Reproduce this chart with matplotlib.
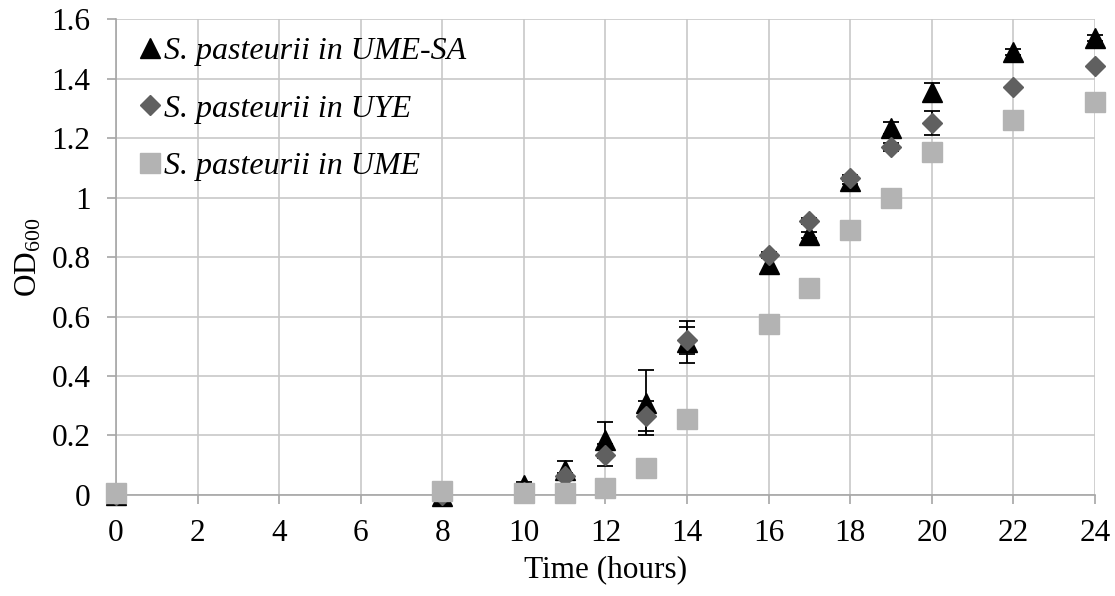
import matplotlib
matplotlib.use("Agg")
import matplotlib.pyplot as plt
from matplotlib.lines import Line2D

# Growth curves of S. pasteurii in three media (OD600 vs time)
hours = [0, 8, 10, 11, 12, 13, 14, 16, 17, 18, 19, 20, 22, 24]

od_ume_sa = [0.0, -0.005, 0.035, 0.085, 0.185, 0.31, 0.515, 0.775, 0.875, 1.055, 1.235, 1.355, 1.488, 1.536]
err_ume_sa = [0.0, 0.0, 0.01, 0.03, 0.062, 0.11, 0.07, 0.025, 0.01, 0.01, 0.02, 0.03, 0.01, 0.01]

od_uye = [0.0, 0.0, 0.01, 0.065, 0.134, 0.265, 0.52, 0.807, 0.921, 1.066, 1.17, 1.25, 1.371, 1.442]
err_uye = [0.0, 0.0, 0.0, 0.01, 0.037, 0.05, 0.045, 0.01, 0.01, 0.01, 0.012, 0.04, 0.005, 0.005]

od_ume = [0.005, 0.015, 0.005, 0.005, 0.025, 0.09, 0.255, 0.575, 0.696, 0.89, 0.998, 1.154, 1.26, 1.321]
err_ume = [0.0] * len(hours)

labels = ["S. pasteurii in UME-SA", "S. pasteurii in UYE", "S. pasteurii in UME"]

plt.rcParams["font.family"] = ["Liberation Serif", "DejaVu Serif"]
plt.rcParams["mathtext.fontset"] = "custom"
plt.rcParams["mathtext.rm"] = "Liberation Serif"
plt.rcParams["mathtext.it"] = "Liberation Serif:italic"

fig = plt.figure(figsize=(11.15, 5.96), dpi=100)
ax = fig.add_axes([0.104, 0.1695, 0.878, 0.7985])

grid_c = "#c8c8c8"
axis_c = "#a6a6a6"

series = [
    (od_ume_sa, err_ume_sa, "^", 15, "#000000", labels[0]),
    (od_uye, err_uye, "D", 10.5, "#606060", labels[1]),
    (od_ume, err_ume, "s", 14, "#b3b3b3", labels[2]),
]

for i, (vals, errs, mk, ms, col, lab) in enumerate(series):
    eb = ax.errorbar(hours, vals, yerr=errs, fmt=mk, ms=ms, color=col, mfc=col, mec=col,
                     ecolor="black", elinewidth=1.3, capsize=6, capthick=1.3,
                     label=lab, zorder=3 + i, clip_on=False)
    eb.lines[0].set_clip_on(False)

ax.set_xlim(0, 24)
ax.set_ylim(0, 1.6)
ax.set_xticks(range(0, 25, 2))
ax.set_yticks([0, 0.2, 0.4, 0.6, 0.8, 1.0, 1.2, 1.4, 1.6])
ax.set_yticklabels(["0", "0.2", "0.4", "0.6", "0.8", "1", "1.2", "1.4", "1.6"])

ax.grid(True, color=grid_c, linewidth=1.2, zorder=0)
ax.set_axisbelow(True)
for s in ("top", "right"):
    ax.spines[s].set_visible(False)
for s in ("left", "bottom"):
    ax.spines[s].set_color(axis_c)
    ax.spines[s].set_linewidth(1.2)

ax.tick_params(axis="both", colors=axis_c, length=6.2, width=1.2, labelsize=22.5,
               labelcolor="black", direction="out")
ax.tick_params(axis="x", pad=11)
ax.tick_params(axis="y", pad=12)

ax.set_xlabel("Time (hours)", fontsize=22.5, labelpad=5)
ax.set_ylabel(r"OD$_{600}$", fontsize=22.5, labelpad=6)

leg_handles = [
    Line2D([], [], marker="^", ls="", ms=14, color="#000000"),
    Line2D([], [], marker="D", ls="", ms=10, color="#606060"),
    Line2D([], [], marker="s", ls="", ms=14, color="#b3b3b3"),
]
leg = ax.legend(leg_handles, labels, loc="upper left", bbox_to_anchor=(0.0, 1.01),
                frameon=False, prop={"family": "Liberation Serif", "style": "italic", "size": 23},
                handlelength=0.75, handletextpad=0.05, labelspacing=0.88, borderaxespad=0.3)

fig.savefig("out.png", dpi=100)
